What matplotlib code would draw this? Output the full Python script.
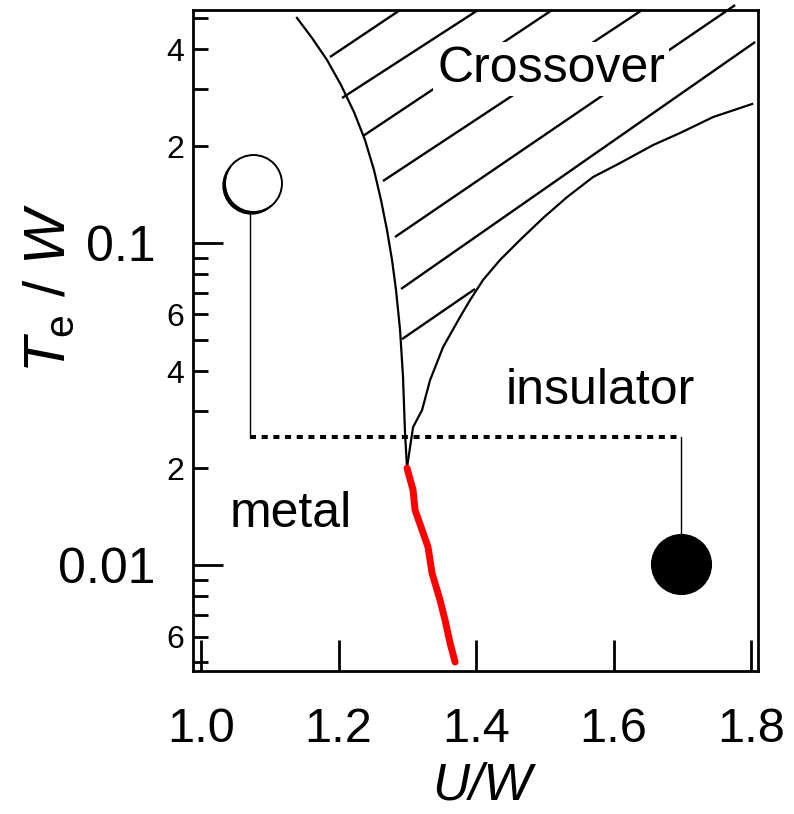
import matplotlib
matplotlib.use("Agg")
import matplotlib.pyplot as plt
import matplotlib.transforms as mtransforms
from matplotlib.ticker import NullLocator

# boundary of the metallic region (left thin curve)
left_u = [1.1396, 1.1615, 1.1833, 1.2036, 1.2225, 1.2385, 1.2516, 1.2618,
          1.2705, 1.2778, 1.2836, 1.2895, 1.2938, 1.2967, 1.2996]
left_t = [0.500, 0.4331, 0.3701, 0.3095, 0.2551, 0.2089, 0.1685, 0.1360,
          0.1097, 0.0886, 0.0715, 0.0537, 0.0384, 0.0257, 0.0201]

# boundary of the insulating region (right thin curve)
right_u = [1.2996, 1.3084, 1.3215, 1.3331, 1.3520, 1.3767, 1.3913, 1.4102,
           1.4349, 1.4640, 1.4975, 1.5324, 1.5702, 1.6095, 1.6575, 1.6967,
           1.7447, 1.8015]
right_t = [0.0201, 0.0268, 0.0303, 0.0375, 0.0475, 0.0589, 0.0665, 0.0768,
           0.0886, 0.1022, 0.1196, 0.1389, 0.1603, 0.1772, 0.2015, 0.2196,
           0.2461, 0.2702]

# first order transition line (red)
first_u = [1.2996, 1.3084, 1.3113, 1.3215, 1.3302, 1.3360, 1.3476, 1.3549,
           1.3622, 1.3695]
first_t = [0.0200, 0.0171, 0.01482, 0.01285, 0.01137, 0.00944, 0.00779,
           0.00675, 0.00573, 0.00500]

# hatch segments of the crossover region
hatch_u0 = [1.1876, 1.2051, 1.2356, 1.2647, 1.2822, 1.2909, 1.2924]
hatch_t0 = [0.3780, 0.2820, 0.2149, 0.1558, 0.1044, 0.0720, 0.0503]
hatch_u1 = [1.2895, 1.4029, 1.5105, 1.6415, 1.7767, 1.8058, 1.3985]
hatch_t1 = [0.529, 0.529, 0.529, 0.529, 0.548, 0.4209, 0.0720]

# the two marked states and the path between them
metal_u, metal_t = 1.0756, 0.1536
ins_u, ins_t = 1.698, 0.0101
path_left_u = 1.0713
path_right_u = 1.698
path_t = 0.025

x_ticks = [1.0, 1.2, 1.4, 1.6, 1.8]
x_labels = ["1.0", "1.2", "1.4", "1.6", "1.8"]
y_major = [0.01, 0.1]
y_major_labels = ["0.01", "0.1"]
y_minor = [0.005, 0.006, 0.007, 0.008, 0.009,
           0.02, 0.03, 0.04, 0.05, 0.06, 0.07, 0.08, 0.09,
           0.2, 0.3, 0.4, 0.5]
y_minor_labels = ["", "6", "", "", "",
                  "2", "", "4", "", "6", "", "", "",
                  "2", "", "4", ""]

plt.rcParams["font.family"] = ["Liberation Sans", "DejaVu Sans"]
plt.rcParams["mathtext.fontset"] = "custom"
plt.rcParams["mathtext.it"] = "Liberation Sans:italic"
plt.rcParams["mathtext.rm"] = "Liberation Sans"

fig = plt.figure(figsize=(7.94, 8.14), dpi=100)
ax = fig.add_axes([0.2427, 0.1757, 0.7120, 0.8120])
ax.set_yscale("log")
ax.set_xlim(0.988, 1.810)
ax.set_ylim(0.00469, 0.529)

# hatching of the crossover region
for u0, t0, u1, t1 in zip(hatch_u0, hatch_t0, hatch_u1, hatch_t1):
    ax.plot([u0, u1], [t0, t1], color="black", lw=1.7, zorder=2,
            clip_on=False, solid_capstyle="butt")

ax.plot(left_u, left_t, color="black", lw=1.6, zorder=3,
        solid_joinstyle="round")
ax.plot(right_u, right_t, color="black", lw=1.6, zorder=3,
        solid_joinstyle="round")
ax.plot(first_u, first_t, color="red", lw=5, zorder=4,
        solid_capstyle="round", solid_joinstyle="round")

# path from metal to insulator
ax.plot([path_left_u, path_left_u], [metal_t, path_t], color="black",
        lw=1.0, zorder=3)
ax.plot([path_left_u, path_right_u], [path_t, path_t], color="black",
        lw=2.9, ls=(0, (1.5, 1.4)), dash_capstyle="butt", zorder=3)
ax.plot([path_right_u, path_right_u], [path_t, ins_t], color="black",
        lw=1.0, zorder=3)

shadow = mtransforms.offset_copy(ax.transData, fig=fig, x=-2, y=-2,
                                 units="dots")
ax.plot([metal_u], [metal_t], marker="o", ms=41, mfc="black", mec="black",
        transform=shadow, zorder=5)
ax.plot([metal_u], [metal_t], marker="o", ms=41, mfc="white", mec="black",
        mew=1.4, zorder=6)
ax.plot([ins_u], [ins_t], marker="o", ms=43, mfc="black", mec="black",
        zorder=6)

ax.text(1.509, 0.316, "Crossover", ha="center", va="baseline", fontsize=36,
        zorder=7, bbox=dict(facecolor="white", edgecolor="none", pad=3))
ax.text(1.5804, 0.0316, "insulator", ha="center", va="baseline",
        fontsize=36, zorder=7)
ax.text(1.1309, 0.01312, "metal", ha="center", va="baseline", fontsize=36,
        zorder=7)

ax.set_xticks(x_ticks, x_labels)
ax.xaxis.set_minor_locator(NullLocator())
ax.set_yticks(y_major, y_major_labels)
ax.set_yticks(y_minor, y_minor_labels, minor=True)
ax.tick_params(axis="x", which="major", direction="in", length=22, width=2,
               labelsize=35, pad=26)
ax.tick_params(axis="y", which="major", direction="in", length=21.6,
               width=2, labelsize=36, pad=27)
ax.tick_params(axis="y", which="minor", direction="in", length=10.8,
               width=2, labelsize=23, pad=6)
for spine in ax.spines.values():
    spine.set_linewidth(2)

fig.text(0.063, 0.646, r"$T_{\mathrm{e}}$ / $W$", rotation=90, ha="center",
         va="center", fontsize=42)
fig.text(0.607, 0.0172, "U/W", style="italic", ha="center", va="baseline",
         fontsize=37)

fig.savefig("out.png", dpi=100)
